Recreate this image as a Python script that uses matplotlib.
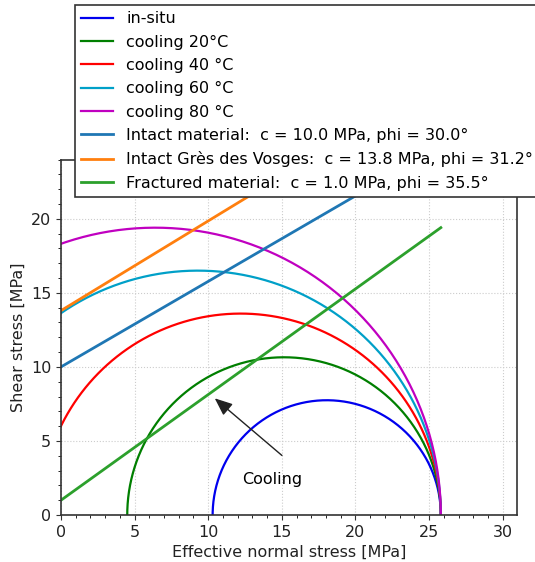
import numpy as np
import matplotlib
matplotlib.use('Agg')
import matplotlib.pyplot as plt
from matplotlib.ticker import MultipleLocator

# Mohr circles (sigma3, sigma1) in MPa
labels = ['in-situ', 'cooling 20°C', 'cooling 40 °C', 'cooling 60 °C', 'cooling 80 °C']
sigma1 = [25.8, 25.8, 25.8, 25.8, 25.8]
sigma3 = [10.3, 4.5, -1.4, -7.2, -13.0]
colors = ['#0000ee', '#007f00', '#ff0000', '#00a0c8', '#c000c0']

# Mohr-Coulomb envelopes
env_names = ['Intact material', 'Intact Grès des Vosges', 'Fractured material']
cohesion = [10.0, 13.8, 1.0]
phi = [30.0, 31.2, 35.5]
env_colors = ['#1f77b4', '#ff7f0e', '#2ca02c']

plt.rcParams['font.size'] = 11.5
fig = plt.figure(figsize=(5.35, 5.62), dpi=100)
ax = fig.add_axes([0.114, 0.0836, 0.852, 0.6325])

theta = np.linspace(0, np.pi, 400)
for s1, s3, lab, col in zip(sigma1, sigma3, labels, colors):
	c = (s1 + s3) / 2
	r = (s1 - s3) / 2
	ax.plot(c + r*np.cos(theta), r*np.sin(theta), color=col, lw=1.6, label=lab)

X = np.linspace(0, max(sigma1), 100)
for name, coh, p, col in zip(env_names, cohesion, phi, env_colors):
	ax.plot(X, coh + X*np.tan(np.radians(p)), color=col, lw=2,
		label='%s:  c = %.1f MPa, phi = %.1f°' % (name, coh, p))

ax.annotate('', xy=(10.3, 8.0), xytext=(15.15, 3.9),
	arrowprops=dict(arrowstyle='-|>,head_length=0.6,head_width=0.25', color='#222222', lw=1, mutation_scale=18))
ax.text(14.33, 2.4, 'Cooling', ha='center', va='center')

ax.set_xlim(0, 1.2*max(sigma1))
ax.set_ylim(0, 24.0)
ax.xaxis.set_major_locator(MultipleLocator(5))
ax.yaxis.set_major_locator(MultipleLocator(5))
ax.xaxis.set_minor_locator(MultipleLocator(1))
ax.yaxis.set_minor_locator(MultipleLocator(1))
ax.grid(which='major', color='#cccccc', ls=':', lw=0.8)
for s in ax.spines.values():
	s.set_color('#333333')
	s.set_linewidth(1.2)
ax.tick_params(colors='#333333', labelcolor='#222222')
ax.set_xlabel('Effective normal stress [MPa]', color='#222222')
ax.set_ylabel('Shear stress [MPa]', color='#222222')

leg = fig.legend(loc='upper left', bbox_to_anchor=(75/535, 1 - 5/562), handlelength=2.0,
	labelspacing=0.52, framealpha=1, edgecolor='#333333', fancybox=False, borderaxespad=0)
leg.get_frame().set_linewidth(1.2)

plt.savefig('out.png', dpi=100)
